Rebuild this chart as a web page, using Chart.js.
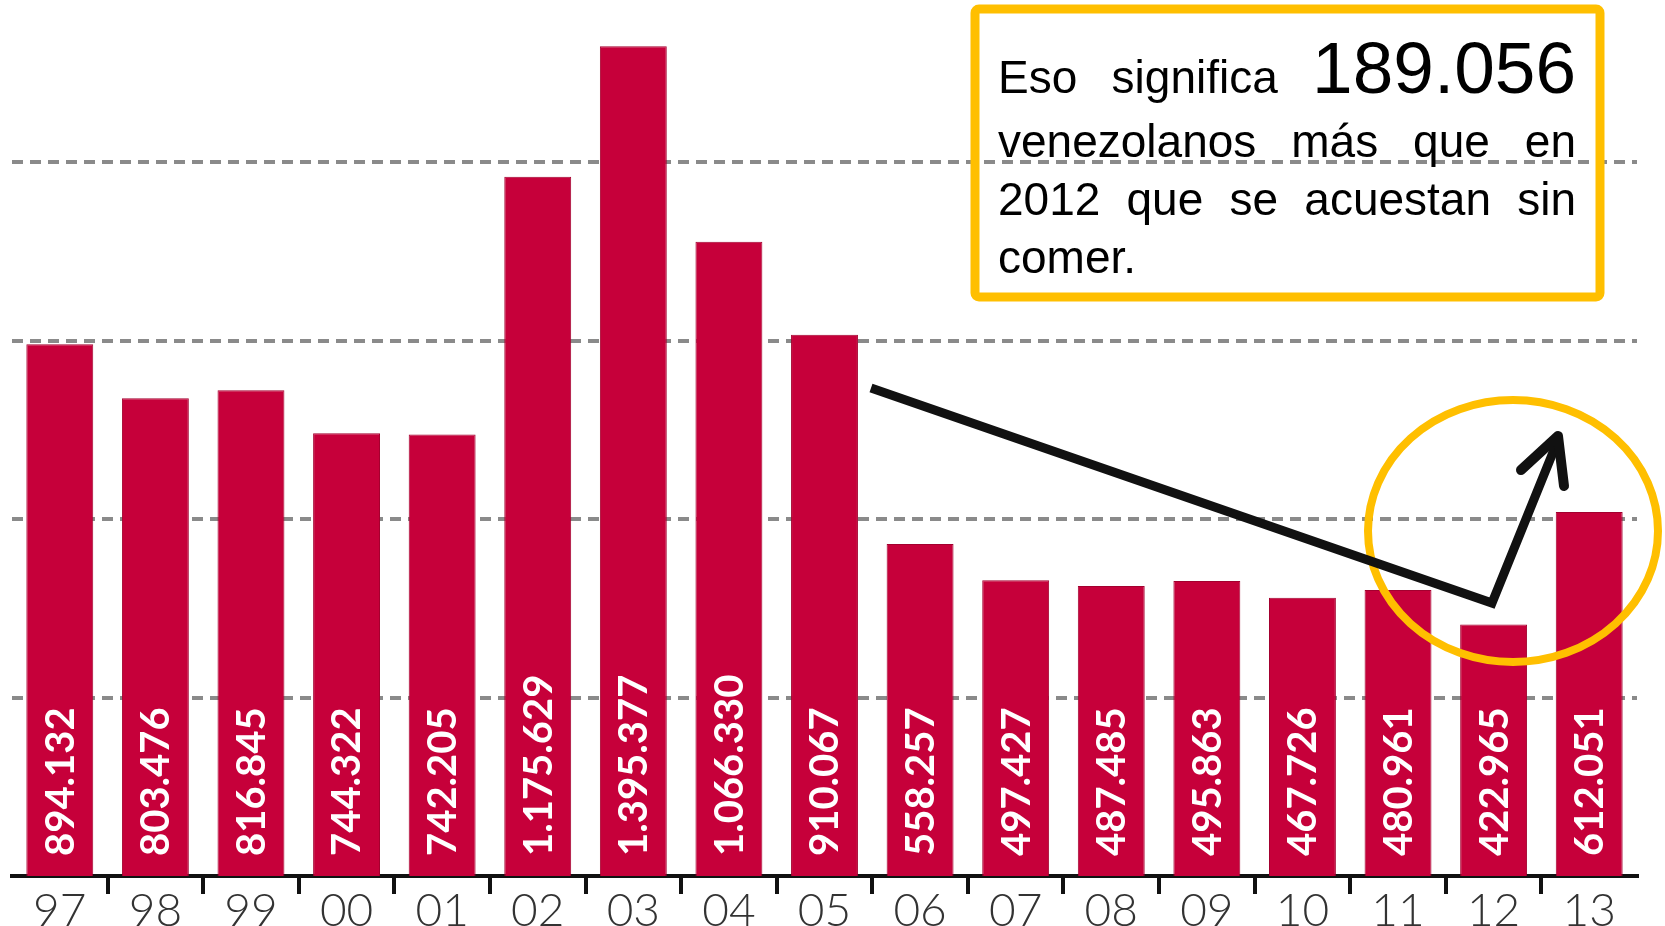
<!DOCTYPE html>
<html>
<head>
<meta charset="utf-8">
<script src="https://cdn.jsdelivr.net/npm/chart.js@4.4.1/dist/chart.umd.min.js"></script>
<style>
  html, body { margin: 0; padding: 0; background: #fff; }
  canvas { display: block; }
</style>
</head>
<body>
<canvas id="chart" width="1665" height="926"></canvas>
<script>
// years (two digits) and number of people going to bed hungry
var years = ['97', '98', '99', '00', '01', '02', '03', '04', '05', '06', '07', '08', '09', '10', '11', '12', '13'];
var hungry = [894132, 803476, 816845, 744322, 742205, 1175629, 1395377, 1066330, 910067, 558257, 497427, 487485, 495863, 467726, 480961, 422965, 612051];
var gridValues = [300000, 600000, 900000, 1200000];

var barRed = '#c6003a';

function fmt(n) {
	return String(n).replace(/\B(?=(\d{3})+(?!\d))/g, '.');
}

// white rotated numbers inside the bars
var barLabels = {
	id: 'barLabels',
	afterDatasetsDraw: function(chart) {
		var ctx = chart.ctx;
		var meta = chart.getDatasetMeta(0);
		ctx.save();
		ctx.fillStyle = '#ffffff';
		ctx.font = 'bold 40px Lato';
		ctx.textAlign = 'left';
		ctx.textBaseline = 'middle';
		meta.data.forEach(function(bar, i) {
			ctx.save();
			ctx.translate(bar.x + 1, bar.base - 20);
			ctx.rotate(-Math.PI / 2);
			ctx.fillText(fmt(hungry[i]), 0, 0);
			ctx.restore();
		});
		ctx.restore();
	}
};

// yellow box with text, yellow ellipse and black arrow
var notes = {
	id: 'notes',
	afterDraw: function(chart) {
		var ctx = chart.ctx;
		ctx.save();

		// ellipse
		ctx.strokeStyle = '#ffbf00';
		ctx.lineWidth = 8;
		ctx.beginPath();
		ctx.ellipse(1513, 531, 145, 131, 0, 0, Math.PI * 2);
		ctx.stroke();

		// arrow
		ctx.strokeStyle = '#111111';
		ctx.lineWidth = 9;
		ctx.lineJoin = 'miter';
		ctx.lineCap = 'butt';
		ctx.beginPath();
		ctx.moveTo(871, 388);
		ctx.lineTo(1492, 603);
		ctx.lineTo(1558, 440);
		ctx.stroke();
		ctx.lineWidth = 10;
		ctx.lineCap = 'round';
		ctx.lineJoin = 'round';
		ctx.beginPath();
		ctx.moveTo(1521, 470);
		ctx.lineTo(1558, 436);
		ctx.lineTo(1564, 486);
		ctx.stroke();

		// box
		ctx.strokeStyle = '#ffbf00';
		ctx.lineWidth = 9;
		ctx.lineJoin = 'round';
		ctx.beginPath();
		ctx.roundRect(975, 9, 625, 288, 4);
		ctx.stroke();

		// justified text
		var left = 998, right = 1576;
		var small = '46px "Liberation Sans", Arial, sans-serif';
		var big = '73px "Liberation Sans", Arial, sans-serif';
		var lines = [
			{ y: 93, words: [['Eso', small], ['significa', small], ['189.056', big]], justify: true },
			{ y: 157, words: [['venezolanos', small], ['más', small], ['que', small], ['en', small]], justify: true },
			{ y: 215, words: [['2012', small], ['que', small], ['se', small], ['acuestan', small], ['sin', small]], justify: true },
			{ y: 273, words: [['comer.', small]], justify: false }
		];
		ctx.fillStyle = '#000000';
		ctx.textBaseline = 'alphabetic';
		ctx.textAlign = 'left';
		lines.forEach(function(line) {
			var widths = line.words.map(function(w) { ctx.font = w[1]; return ctx.measureText(w[0]).width; });
			var total = widths.reduce(function(a, b) { return a + b; }, 0);
			var gap = line.justify ? (right - left - total) / (line.words.length - 1) : 12;
			var x = left;
			line.words.forEach(function(w, i) {
				ctx.font = w[1];
				ctx.fillText(w[0], x, line.y);
				x += widths[i] + gap;
			});
		});

		ctx.restore();
	}
};

new Chart(document.getElementById('chart'), {
	type: 'bar',
	data: {
		labels: years,
		datasets: [{
			data: hungry,
			backgroundColor: barRed,
			borderColor: '#a3002f',
			borderWidth: 1,
			categoryPercentage: 1,
			barPercentage: 0.7
		}]
	},
	options: {
		responsive: false,
		animation: false,
		devicePixelRatio: 1,
		layout: { padding: { left: 12, right: 28, top: 0, bottom: 0 } },
		plugins: {
			legend: { display: false },
			tooltip: { enabled: false },
			title: { display: false }
		},
		scales: {
			x: {
				offset: true,
				grid: {
					offset: true,
					drawOnChartArea: false,
					drawTicks: true,
					tickLength: 18,
					lineWidth: 4,
					color: function(c) {
						return (c.type !== 'tick' || c.index === 0) ? 'rgba(0,0,0,0)' : '#111111';
					}
				},
				border: { display: true, color: '#111111', width: 4 },
				ticks: {
					color: '#333333',
					padding: -10,
					font: { family: 'Lato', size: 46, weight: 300 },
					maxRotation: 0,
					autoSkip: false
				},
				afterFit: function(scale) { scale.height = 50; }
			},
			y: {
				display: true,
				min: 0,
				max: 1473000,
				ticks: { display: false },
				border: { display: false, dash: [11, 7] },
				grid: {
					display: true,
					drawTicks: false,
					lineWidth: 4,
					color: '#8a8a8a'
				},
				afterBuildTicks: function(scale) {
					scale.ticks = gridValues.map(function(v) { return { value: v }; });
				},
				afterFit: function(scale) { scale.width = 0; }
			}
		}
	},
	plugins: [barLabels, notes]
});
</script>
</body>
</html>
